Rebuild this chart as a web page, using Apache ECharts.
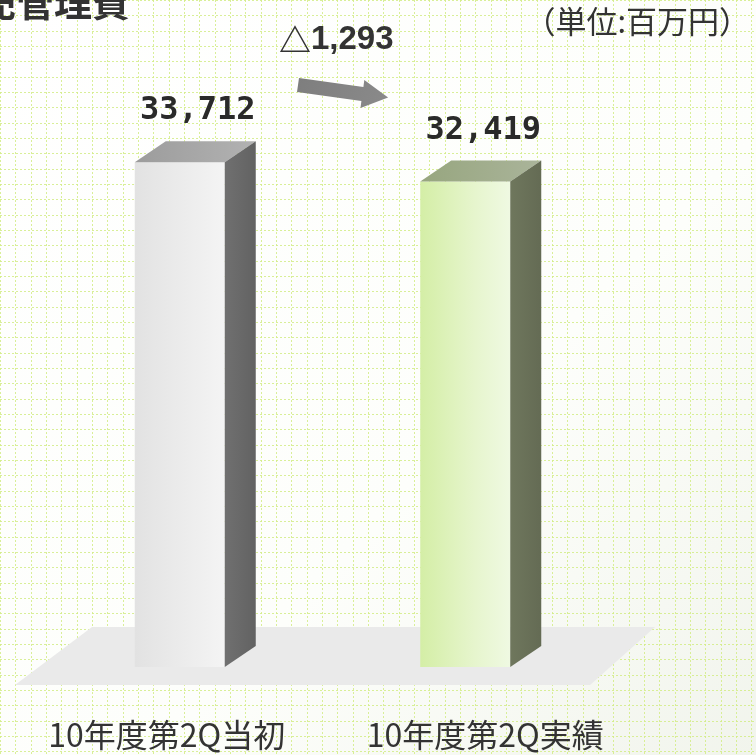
<!DOCTYPE html>
<html>
<head>
<meta charset="utf-8">
<script src="https://cdn.jsdelivr.net/npm/echarts@6/dist/echarts.min.js"></script>
<style>
html,body{margin:0;padding:0;background:#fff;}
#chart{width:756px;height:755px;}
</style>
</head>
<body>
<div id="chart"></div>
<script>
// ---- data ----
const categories = ['10年度第2Q当初', '10年度第2Q実績'];
const values = [33712, 32419];
const valueLabels = ['33,712', '32,419'];
const changeMark = '△';
const changeValue = '1,293';
const titleText = '販売管理費';
const unitText = '（単位:百万円）';

// ---- styles ----
const W = 756, H = 755;
const frontColors = [
  [['#e2e2e2', 0], ['#f4f4f4', 1]],
  [['#d4eea6', 0], ['#e6f5cd', 0.6], ['#eff9e2', 1]]
];
const topColors = [['#9c9c9c', '#b2b2b2'], ['#97a67f', '#aab49a']];
const sideColors = [['#707070', '#626262'], ['#6f775d', '#646b54']];

function lg(x0, y0, x1, y1, stops) {
  return new echarts.graphic.LinearGradient(x0, y0, x1, y1,
    stops.map(s => ({ offset: s[1], color: s[0] })));
}

// background grid lines
const bg = [];
const step = 15.33;
const gridStroke = '#d2ec86';
for (let x = 0; x < W; x += step) {
  bg.push({ type: 'line', z: 0, silent: true,
    shape: { x1: Math.round(x) + 0.5, y1: 0, x2: Math.round(x) + 0.5, y2: H },
    style: { stroke: gridStroke, lineWidth: 1, lineDash: [2, 2], opacity: 0.85 } });
}
for (let y = 0; y < H; y += step) {
  bg.push({ type: 'line', z: 0, silent: true,
    shape: { x1: 0, y1: Math.round(y) + 0.5, x2: W, y2: Math.round(y) + 0.5 },
    style: { stroke: gridStroke, lineWidth: 1, lineDash: [2, 2], opacity: 0.85 } });
}

const chart = echarts.init(document.getElementById('chart'), null, { renderer: 'canvas' });

const DX = 31, DY = -21, BW = 90;

function renderItem(params, api) {
  const i = params.dataIndex;
  const top = api.coord([api.value(0), api.value(1)]);
  const base = api.coord([api.value(0), 0]);
  const x0 = top[0] - BW / 2, x1 = top[0] + BW / 2;
  const yT = top[1], yB = base[1];
  return {
    type: 'group',
    children: [
      { type: 'rect', shape: { x: x0, y: yT, width: BW, height: yB - yT },
        style: { fill: lg(0, 0, 1, 0, frontColors[i]) } },
      { type: 'polygon', shape: { points: [[x0, yT], [x1, yT], [x1 + DX, yT + DY], [x0 + DX, yT + DY]] },
        style: { fill: lg(0, 0, 1, 0, [[topColors[i][0], 0], [topColors[i][1], 1]]) } },
      { type: 'polygon', shape: { points: [[x1, yT], [x1 + DX, yT + DY], [x1 + DX, yB + DY], [x1, yB]] },
        style: { fill: lg(0, 0, 1, 0, [[sideColors[i][0], 0], [sideColors[i][1], 1]]) } },
      { type: 'text', x: top[0] + 18, y: yT - 51,
        style: { text: valueLabels[i], fill: '#2a2a2a', fontSize: 32, fontWeight: 'bold',
          fontFamily: 'DejaVu Sans Mono', align: 'center', verticalAlign: 'middle' } }
    ]
  };
}

const labelPads = [[0, 26, 0, 0], [0, 0, 0, 40]];

chart.setOption({
  animation: false,
  backgroundColor: new echarts.graphic.LinearGradient(0, 0, 1, 1, [
    { offset: 0, color: '#ffffff' }, { offset: 0.6, color: '#fdfefb' }, { offset: 1, color: '#f1f4ec' }
  ]),
  grid: { left: 37, right: 148, top: 68, bottom: 88 },
  xAxis: {
    type: 'category',
    data: categories.map((c, i) => ({ value: c, textStyle: { padding: labelPads[i] } })),
    axisLine: { show: false }, axisTick: { show: false }, splitLine: { show: false },
    axisLabel: { interval: 0, fontSize: 32, color: '#333', margin: 52,
      fontFamily: 'Noto Sans CJK JP' }
  },
  yAxis: { type: 'value', min: 0, max: 40000, show: false },
  graphic: [
    ...bg,
    { type: 'polygon', z: 1, silent: true,
      shape: { points: [[92, 627], [655, 627], [590, 685], [15, 685]] },
      style: { fill: '#eaeaea' } },
    { type: 'text', z: 5, x: -60, y: 2,
      style: { text: titleText, fill: '#333', fontSize: 38, fontWeight: 'bold',
        fontFamily: 'Noto Sans CJK JP', align: 'left', verticalAlign: 'middle' } },
    { type: 'text', z: 5, x: 750, y: 21,
      style: { text: unitText, fill: '#333', fontSize: 31,
        fontFamily: 'Noto Sans CJK JP', align: 'right', verticalAlign: 'middle' } },
    { type: 'text', z: 5, x: 279, y: 40,
      style: { text: '{a|' + changeMark + '}{b|' + changeValue + '}', align: 'left', verticalAlign: 'middle',
        rich: {
          a: { fill: '#333', fontSize: 32, fontFamily: 'Noto Sans CJK JP', fontWeight: 'bold' },
          b: { fill: '#333', fontSize: 33, fontWeight: 'bold', fontFamily: 'Liberation Sans' }
        } } },
    { type: 'polygon', z: 5, silent: true,
      shape: { points: [[299, 78.1], [363.4, 87.1], [364.3, 80.1], [388.1, 97.6], [360.5, 107.9], [361.4, 100.9], [297, 91.9]] },
      style: { fill: new echarts.graphic.LinearGradient(0, 0, 1, 1, [
        { offset: 0, color: '#7e7e7e' }, { offset: 1, color: '#8a8a8a' }]) } }
  ],
  series: [{
    type: 'custom',
    z: 3,
    renderItem: renderItem,
    data: values.map((v, i) => [i, v])
  }]
});
</script>
</body>
</html>
